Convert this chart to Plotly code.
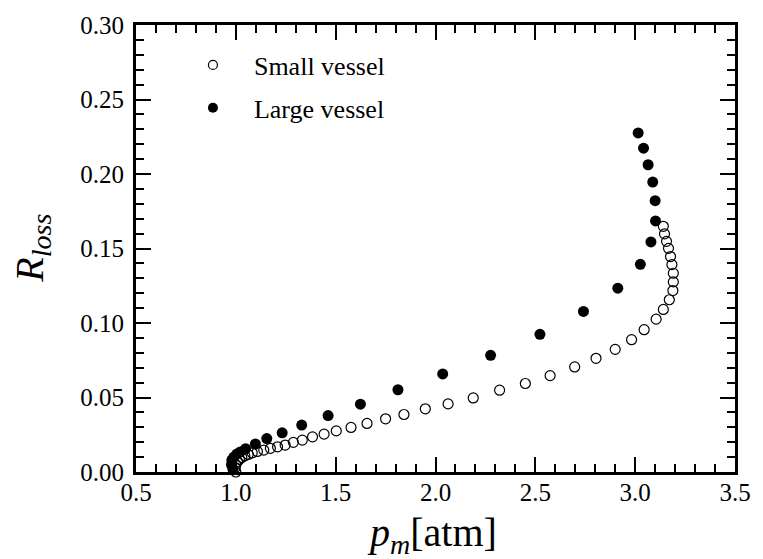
import plotly.graph_objects as go

# Small vessel (open circles)
small_pm = [1.000, 0.997, 1.000, 1.008, 1.018, 1.030, 1.045, 1.062, 1.082, 1.108, 1.140, 1.173,
            1.209, 1.247, 1.288, 1.333, 1.384, 1.442, 1.503, 1.577, 1.657, 1.750, 1.842, 1.949,
            2.063, 2.189, 2.321, 2.450, 2.574, 2.697, 2.804, 2.900, 2.982, 3.045, 3.105, 3.141,
            3.171, 3.189, 3.191, 3.191, 3.184, 3.177, 3.167, 3.157, 3.147, 3.141]
small_r = [0.000, 0.003, 0.005, 0.007, 0.0085, 0.0097, 0.0108, 0.0118, 0.0128, 0.0138, 0.0147, 0.0159,
           0.0169, 0.0181, 0.0199, 0.0214, 0.0236, 0.0254, 0.0276, 0.0299, 0.0326, 0.0357, 0.0386, 0.0424,
           0.0457, 0.0497, 0.0549, 0.0594, 0.0647, 0.0705, 0.0763, 0.0823, 0.0888, 0.0955, 0.1026, 0.1091,
           0.1156, 0.1218, 0.1276, 0.1334, 0.1392, 0.1446, 0.1501, 0.1548, 0.1598, 0.1649]

# Large vessel (filled circles)
large_pm = [1.000, 0.985, 0.978, 0.980, 0.990, 1.005, 1.022, 1.049, 1.098, 1.155, 1.232, 1.330,
            1.462, 1.624, 1.812, 2.036, 2.276, 2.523, 2.741, 2.913, 3.026, 3.079, 3.102, 3.100,
            3.088, 3.065, 3.042, 3.015]
large_r = [-0.001, 0.002, 0.005, 0.008, 0.010, 0.012, 0.0135, 0.0156, 0.0188, 0.0224, 0.0263, 0.0315,
           0.0379, 0.0455, 0.0552, 0.0658, 0.0783, 0.0924, 0.1078, 0.1234, 0.1394, 0.1544, 0.1685, 0.1821,
           0.1946, 0.2062, 0.2173, 0.2276]

FONT = "'Liberation Serif', 'Times New Roman', 'DejaVu Serif', serif"

fig = go.Figure()
fig.add_trace(go.Scatter(x=small_pm, y=small_r, mode="markers", showlegend=False,
                         marker=dict(symbol="circle-open", size=10, color="black", line=dict(width=1.2)),
                         cliponaxis=False))
fig.add_trace(go.Scatter(x=large_pm, y=large_r, mode="markers", showlegend=False,
                         marker=dict(symbol="circle", size=11, color="black"),
                         cliponaxis=False))
# legend entries
fig.add_trace(go.Scatter(x=[None], y=[None], mode="markers", name="Small vessel", legendgroup="s",
                         marker=dict(symbol="circle-open", size=9, color="black", line=dict(width=1.2))))
fig.add_trace(go.Scatter(x=[None], y=[None], mode="markers", name="Large vessel", legendgroup="l",
                         marker=dict(symbol="circle", size=10, color="black")))

axis_common = dict(
    showgrid=False, zeroline=False, showline=True, linecolor="black", linewidth=3,
    mirror="allticks", ticks="inside", ticklen=15, tickwidth=2, tickcolor="black",
    tickfont=dict(family=FONT, size=25, color="black"),
)

fig.update_xaxes(range=[0.5, 3.5], dtick=0.5, tick0=0.5, tickformat=".1f", ticklabelstandoff=-4,
                 minor=dict(dtick=0.1, ticks="inside", ticklen=8, tickwidth=2, tickcolor="black"),
                 **axis_common)
fig.update_yaxes(range=[0.0, 0.30], dtick=0.05, tick0=0, tickformat=".2f", ticklabelstandoff=4,
                 minor=dict(dtick=0.01, ticks="inside", ticklen=8, tickwidth=2, tickcolor="black"),
                 **axis_common)

fig.update_layout(
    width=763, height=559,
    margin=dict(l=136, r=22, t=22, b=87),
    paper_bgcolor="white", plot_bgcolor="white",
    font=dict(family=FONT, color="black"),
    legend=dict(x=0.06, y=0.963, xanchor="left", yanchor="top", bgcolor="rgba(0,0,0,0)",
                font=dict(family=FONT, size=26, color="black"), itemsizing="trace",
                itemwidth=72, tracegroupgap=6),
    annotations=[
        dict(text="<i>R</i><sub><i>loss</i></sub>", xref="paper", yref="paper",
             x=-0.175, y=0.5, xanchor="center", yanchor="middle", textangle=-90, showarrow=False,
             font=dict(family=FONT, size=40, color="black")),
        dict(text="<i>p</i><sub><i>m</i></sub>[atm]", xref="paper", yref="paper",
             x=0.494, y=-0.142, xanchor="center", yanchor="middle", showarrow=False,
             font=dict(family=FONT, size=40, color="black")),
    ],
)

fig.write_html("out.html")
